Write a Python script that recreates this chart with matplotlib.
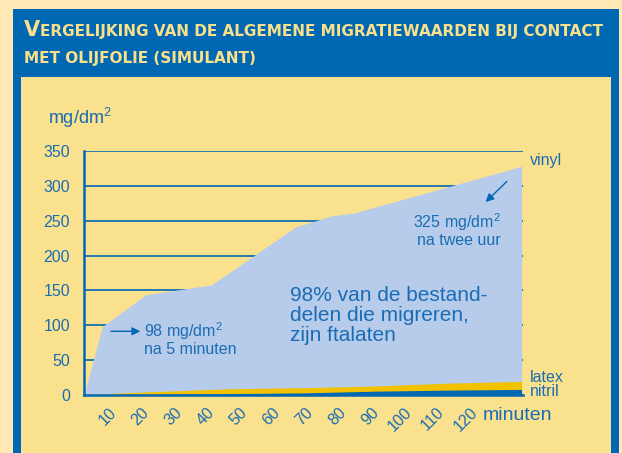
import matplotlib.pyplot as plt
from matplotlib.patches import Rectangle

# Data
minutes_vinyl = [0, 5, 17, 35, 58, 68, 74, 120]
vinyl = [0, 98, 144, 158, 241, 257, 261, 328]

minutes = [0, 10, 20, 30, 40, 60, 80, 100, 120]
latex = [0, 3, 5, 7, 9, 10.5, 13, 17, 19.5]
nitril = [0, 0.5, 1, 1.5, 2, 3, 5.5, 7, 8]

xticks = [10, 20, 30, 40, 50, 60, 70, 80, 90, 100, 110, 120]
yticks = [0, 50, 100, 150, 200, 250, 300, 350]

title_first = "V"
title_rest = "ERGELIJKING VAN DE ALGEMENE MIGRATIEWAARDEN BIJ CONTACT"
title_line2 = "MET OLIJFOLIE (SIMULANT)"

# Colours
cream = "#FFEAB6"
panel = "#FAE18D"
darkblue = "#0067B2"
textblue = "#1A6DB4"
vinyl_col = "#B7CBEA"
latex_col = "#F2C200"
title_col = "#FAE08A"

plt.rcParams['font.family'] = ['Liberation Sans', 'DejaVu Sans']
plt.rcParams['mathtext.fontset'] = 'custom'
plt.rcParams['mathtext.rm'] = 'Liberation Sans'

W, H = 622, 453
fig = plt.figure(figsize=(W / 100, H / 100), dpi=100)
fig.patch.set_facecolor(cream)

# blue frame + yellow panel
fig.add_artist(Rectangle((13 / W, 0), 606 / W, (H - 9) / H, transform=fig.transFigure,
                         facecolor=darkblue, edgecolor='none', zorder=0))
fig.add_artist(Rectangle((21 / W, 0), 590 / W, (H - 77) / H, transform=fig.transFigure,
                         facecolor=panel, edgecolor='none', zorder=0))

# title with fake small caps
renderer = fig.canvas.get_renderer()
tfont = dict(family=['DejaVu Sans'], weight='bold', color=title_col, va='baseline')
t = fig.text(24 / W, 1 - 36 / H, title_first, fontsize=15, **tfont)
bb = t.get_window_extent(renderer)
fig.text(bb.x1 / W, 1 - 36 / H, title_rest, fontsize=10.95, **tfont)
fig.text(24 / W, 1 - 63 / H, title_line2, fontsize=10.95, **tfont)

# chart
ax = fig.add_axes([84 / W, 1 - 395 / H, (523 - 84) / W, (395 - 151) / H])
ax.set_facecolor('none')
ax.set_xlim(0, 120.4)
ax.set_ylim(0, 350)

ax.set_axisbelow(True)
ax.yaxis.grid(True, color=darkblue, lw=1.2)
ax.fill_between(minutes_vinyl, vinyl, color=vinyl_col, lw=0, zorder=2)
ax.fill_between(minutes, latex, color=latex_col, lw=0, zorder=3)
ax.fill_between(minutes, nitril, color=darkblue, lw=0, zorder=4)

for s in ['top', 'right']:
    ax.spines[s].set_visible(False)
for s in ['left', 'bottom']:
    ax.spines[s].set_color(darkblue)
    ax.spines[s].set_linewidth(1.8)
    ax.spines[s].set_zorder(5)

ax.set_yticks(yticks)
# the printed labels sit a little tighter than the data scale
ax.set_xticks([v * 0.9 - 0.8 for v in xticks])
ax.set_xticklabels([str(v) for v in xticks], rotation=45, ha='right', va='center',
                   rotation_mode='anchor')
ax.tick_params(length=0, labelsize=11.5, labelcolor=textblue)
ax.tick_params(axis='y', pad=10)
ax.tick_params(axis='x', pad=11)

fig.text(48 / W, 1 - 118 / H, r'$\mathregular{mg/dm^2}$', fontsize=13, color=textblue, va='center')
fig.text(483 / W, 1 - 416 / H, 'minuten', fontsize=14, color=textblue, va='center')

# series labels
ax.text(122.2, 337, 'vinyl', fontsize=11.5, color=textblue, va='center', clip_on=False)
ax.text(122.2, 25.7, 'latex', fontsize=11.5, color=textblue, va='center', clip_on=False)
ax.text(122.2, 5.7, 'nitril', fontsize=11.5, color=textblue, va='center', clip_on=False)

# annotations
ax.annotate('', xy=(109.6, 274), xytext=(116.5, 309),
            arrowprops=dict(arrowstyle='-|>', color=darkblue, lw=1, mutation_scale=12), zorder=6)
ax.text(114.3, 237, '325 $\\mathregular{mg/dm^2}$\nna twee uur', fontsize=11.5, color=textblue,
        ha='right', va='center', multialignment='right', linespacing=1.0, zorder=6)

ax.annotate('', xy=(16.2, 91.4), xytext=(6.6, 91.4),
            arrowprops=dict(arrowstyle='-|>', color=darkblue, lw=1, mutation_scale=12), zorder=6)
ax.text(16.4, 81.5, '98 $\\mathregular{mg/dm^2}$\nna 5 minuten', fontsize=11.5, color=textblue,
        ha='left', va='center', linespacing=1.0, zorder=6)

ax.text(56.6, 114, '98% van de bestand-\ndelen die migreren,\nzijn ftalaten', fontsize=15,
        color=textblue, ha='left', va='center', linespacing=1.05, zorder=6)

fig.savefig('out.png', dpi=100, facecolor=fig.get_facecolor())
